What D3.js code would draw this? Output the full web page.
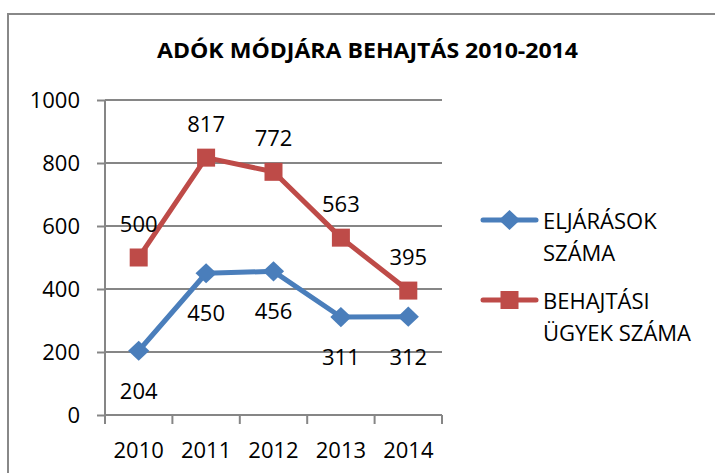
<!DOCTYPE html>
<html lang="hu">
<head>
<meta charset="UTF-8">
<title>Adók módjára behajtás</title>
<script src="https://d3js.org/d3.v7.min.js"></script>
<style>
    body { margin: 0; background: #fff; }
    svg text { font-family: "Open Sans", "Noto Sans", sans-serif; fill: #000; }
    .grid line { stroke: #868686; stroke-width: 2px; }
    .axis path, .axis line { stroke: #868686; stroke-width: 2px; }
</style>
</head>
<body>
<div id="chart"></div>
<script>
    const years = ["2010", "2011", "2012", "2013", "2014"];
    const eljarasok = [204, 450, 456, 311, 312];
    const behajtasi = [500, 817, 772, 563, 395];
    const yTicks = [0, 200, 400, 600, 800, 1000];
    const seriesNames = [["ELJÁRÁSOK", "SZÁMA"], ["BEHAJTÁSI", "ÜGYEK SZÁMA"]];
    const title = "ADÓK MÓDJÁRA BEHAJTÁS 2010-2014";

    const width = 715, height = 473;
    const plot = { left: 105, right: 442, top: 100, bottom: 415 };
    const numSize = "22px";

    const svg = d3.select("#chart").append("svg")
        .attr("width", width)
        .attr("height", height);

    // chart frame (only top and left edges are visible)
    svg.append("path")
        .attr("d", `M8,${height} V14 H${width}`)
        .attr("fill", "none")
        .attr("stroke", "#888")
        .attr("stroke-width", 2);

    svg.append("text")
        .attr("x", 157).attr("y", 58)
        .attr("textLength", 421)
        .attr("lengthAdjust", "spacingAndGlyphs")
        .style("font-size", "22px")
        .style("font-weight", "bold")
        .text(title);

    const x = d3.scaleBand().domain(years).range([plot.left, plot.right]);
    const y = d3.scaleLinear().domain([0, 1000]).range([plot.bottom, plot.top]);

    // gridlines
    svg.append("g").attr("class", "grid")
        .selectAll("line").data(yTicks.slice(1)).join("line")
        .attr("x1", plot.left).attr("x2", plot.right)
        .attr("y1", d => y(d)).attr("y2", d => y(d));

    const yAxis = svg.append("g").attr("class", "axis")
        .attr("transform", `translate(${plot.left},0)`)
        .call(d3.axisLeft(y).tickValues(yTicks).tickFormat(d3.format("d")).tickSize(8).tickPadding(17));
    yAxis.select(".domain").attr("d", `M0,${plot.top}V${plot.bottom}`);
    yAxis.selectAll("text").style("font-size", numSize);

    const xAxis = svg.append("g").attr("class", "axis")
        .attr("transform", `translate(0,${plot.bottom})`)
        .call(d3.axisBottom(x).tickSize(0).tickPadding(0));
    xAxis.select(".domain").attr("d", `M${plot.left},0H${plot.right}`);
    xAxis.selectAll("text")
        .attr("dy", null).attr("y", 34)
        .attr("dominant-baseline", "central")
        .style("font-size", numSize);
    // category boundary ticks
    xAxis.selectAll(".bound").data(years.concat(["end"])).join("line")
        .attr("class", "bound")
        .attr("x1", (d, i) => plot.left + i * x.step())
        .attr("x2", (d, i) => plot.left + i * x.step())
        .attr("y1", 0).attr("y2", 9);

    const cx = d => x(d) + x.bandwidth() / 2;
    const line = d3.line().x((d, i) => cx(years[i])).y(d => y(d));

    const blue = "#4A7EBB", red = "#BE4B48";

    // red series
    svg.append("path").datum(behajtasi)
        .attr("d", line).attr("fill", "none")
        .attr("stroke", red).attr("stroke-width", 5).attr("stroke-linejoin", "round");
    svg.selectAll(".sq").data(behajtasi).join("rect")
        .attr("class", "sq")
        .attr("x", (d, i) => cx(years[i]) - 9).attr("y", d => y(d) - 9)
        .attr("width", 18).attr("height", 18)
        .attr("fill", red);

    // blue series
    svg.append("path").datum(eljarasok)
        .attr("d", line).attr("fill", "none")
        .attr("stroke", blue).attr("stroke-width", 5).attr("stroke-linejoin", "round");
    const diamond = d3.symbol().type(d3.symbolDiamond2).size(260);
    svg.selectAll(".dm").data(eljarasok).join("path")
        .attr("class", "dm")
        .attr("transform", (d, i) => `translate(${cx(years[i])},${y(d)}) scale(1.05,1)`)
        .attr("d", diamond)
        .attr("fill", blue);

    // data labels
    svg.selectAll(".lr").data(behajtasi).join("text")
        .attr("class", "lr")
        .attr("x", (d, i) => cx(years[i])).attr("y", d => y(d) - 35)
        .attr("text-anchor", "middle").attr("dominant-baseline", "central")
        .style("font-size", numSize)
        .text(d => d);
    svg.selectAll(".lb").data(eljarasok).join("text")
        .attr("class", "lb")
        .attr("x", (d, i) => cx(years[i])).attr("y", d => y(d) + 39)
        .attr("text-anchor", "middle").attr("dominant-baseline", "central")
        .style("font-size", numSize)
        .text(d => d);

    // legend
    const legend = svg.append("g");
    const legendY = [220, 300];
    [blue, red].forEach((c, k) => {
        const g = legend.append("g").attr("transform", `translate(0,${legendY[k]})`);
        g.append("line").attr("x1", 483).attr("x2", 536)
            .attr("stroke", c).attr("stroke-width", 5).attr("stroke-linecap", "round");
        if (k === 0) {
            g.append("path").attr("transform", "translate(509.5,0) scale(1.05,1)")
                .attr("d", diamond).attr("fill", c);
        } else {
            g.append("rect").attr("x", 500.5).attr("y", -9).attr("width", 18).attr("height", 18).attr("fill", c);
        }
        seriesNames[k].forEach((t, j) => {
            g.append("text").attr("x", 543).attr("y", j * 32)
                .attr("dominant-baseline", "central")
                .style("font-size", "22px")
                .text(t);
        });
    });
</script>
</body>
</html>
